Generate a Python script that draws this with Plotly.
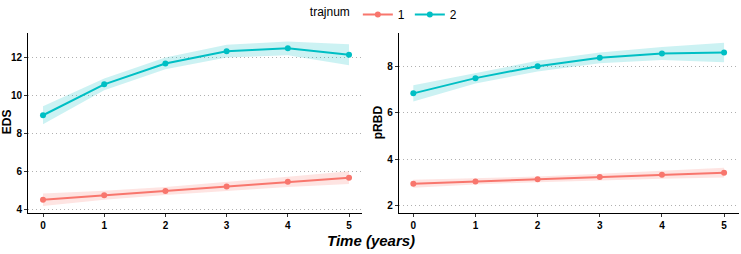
import plotly.graph_objects as go

time = [0, 1, 2, 3, 4, 5]
groups = ["1", "2"]

eds_mean_1 = [4.53, 4.76, 4.99, 5.23, 5.47, 5.69]
eds_lo_1 = [4.20, 4.52, 4.78, 5.00, 5.20, 5.35]
eds_hi_1 = [4.86, 5.00, 5.20, 5.46, 5.74, 6.03]
eds_mean_2 = [8.98, 10.61, 11.71, 12.36, 12.51, 12.17]
eds_lo_2 = [8.50, 10.30, 11.40, 12.02, 12.15, 11.62]
eds_hi_2 = [9.46, 10.92, 12.02, 12.70, 12.87, 12.72]

prbd_mean_1 = [2.93, 3.03, 3.12, 3.22, 3.32, 3.41]
prbd_lo_1 = [2.76, 2.90, 3.00, 3.08, 3.15, 3.20]
prbd_hi_1 = [3.10, 3.16, 3.24, 3.36, 3.49, 3.62]
prbd_mean_2 = [6.85, 7.51, 8.03, 8.39, 8.58, 8.62]
prbd_lo_2 = [6.50, 7.28, 7.80, 8.16, 8.30, 8.20]
prbd_hi_2 = [7.20, 7.74, 8.26, 8.62, 8.86, 9.04]

x_ticks = [0, 1, 2, 3, 4, 5]
eds_ticks = [4, 6, 8, 10, 12]
prbd_ticks = [2, 4, 6, 8]

colors = {"1": "#F8766D", "2": "#00BFC4"}
fills = {"1": "rgba(248,118,109,0.2)", "2": "rgba(0,191,196,0.2)"}

W, H = 741, 254
fig = go.Figure()

panels = [
    ("x", "y", {"1": (eds_mean_1, eds_lo_1, eds_hi_1), "2": (eds_mean_2, eds_lo_2, eds_hi_2)}),
    ("x2", "y2", {"1": (prbd_mean_1, prbd_lo_1, prbd_hi_1), "2": (prbd_mean_2, prbd_lo_2, prbd_hi_2)}),
]

for pi, (xa, ya, data) in enumerate(panels):
    for g in groups:
        m, lo, hi = data[g]
        fig.add_trace(go.Scatter(x=time, y=lo, xaxis=xa, yaxis=ya, mode="lines",
                                 line=dict(width=0, color=colors[g]), showlegend=False,
                                 hoverinfo="skip"))
        fig.add_trace(go.Scatter(x=time, y=hi, xaxis=xa, yaxis=ya, mode="lines",
                                 line=dict(width=0, color=colors[g]), fill="tonexty",
                                 fillcolor=fills[g], showlegend=False, hoverinfo="skip"))
    for g in groups:
        m, lo, hi = data[g]
        fig.add_trace(go.Scatter(x=time, y=m, xaxis=xa, yaxis=ya, mode="lines+markers",
                                 name=g, line=dict(width=2, color=colors[g]),
                                 marker=dict(size=6, color=colors[g]),
                                 showlegend=(pi == 0), legendgroup=g))

ydom = [(H - 214) / H, (H - 27) / H]
tickfont = dict(family="Liberation Sans", size=10, color="black", weight="bold")
common_x = dict(tickvals=x_ticks, showgrid=False, zeroline=False, showline=True,
                linecolor="black", linewidth=1, ticks="outside", ticklen=3,
                tickcolor="#333333", tickfont=tickfont)
common_y = dict(showgrid=True, gridcolor="#b0b0b0", griddash="1px,3px", gridwidth=1,
                zeroline=False, showline=True, linecolor="black", linewidth=1,
                ticks="outside", ticklen=3, tickcolor="#333333", tickfont=tickfont)

fig.update_layout(
    width=W, height=H,
    margin=dict(l=0, r=0, t=0, b=0),
    plot_bgcolor="white", paper_bgcolor="white",
    font=dict(family="Liberation Sans", color="black"),
    xaxis=dict(domain=[28 / W, 362 / W], range=[-0.245, 5.212], anchor="y", **common_x),
    yaxis=dict(domain=ydom, range=[3.85, 13.32], tickvals=eds_ticks, anchor="x", **common_y),
    xaxis2=dict(domain=[398.7 / W, 739 / W], range=[-0.235, 5.24], anchor="y2", **common_x),
    yaxis2=dict(domain=ydom, range=[1.68, 9.47], tickvals=prbd_ticks, anchor="x2", **common_y),
    legend=dict(orientation="h", x=0.52, xanchor="center", y=1.03, yanchor="top",
                title=dict(text="trajnum", font=dict(size=12)),
                font=dict(size=12), itemwidth=30, bgcolor="rgba(0,0,0,0)"),
    showlegend=True,
    annotations=[
        dict(text="<b><i>Time (years)</i></b>", x=371 / W, y=(H - 243) / H, xref="paper",
             yref="paper", xanchor="center", yanchor="middle", showarrow=False,
             font=dict(size=15, family="Liberation Sans")),
        dict(text="<b>EDS</b>", x=7 / W, y=(H - 120) / H, xref="paper", yref="paper",
             xanchor="center", yanchor="middle",
             showarrow=False, textangle=-90, font=dict(size=12, family="Liberation Sans")),
        dict(text="<b>pRBD</b>", x=378 / W, y=(H - 120) / H, xref="paper", yref="paper",
             xanchor="center", yanchor="middle",
             showarrow=False, textangle=-90, font=dict(size=12, family="Liberation Sans")),
    ],
)

fig.write_html("out.html", config={"displayModeBar": False},
               post_script="document.body.style.margin='0';")
